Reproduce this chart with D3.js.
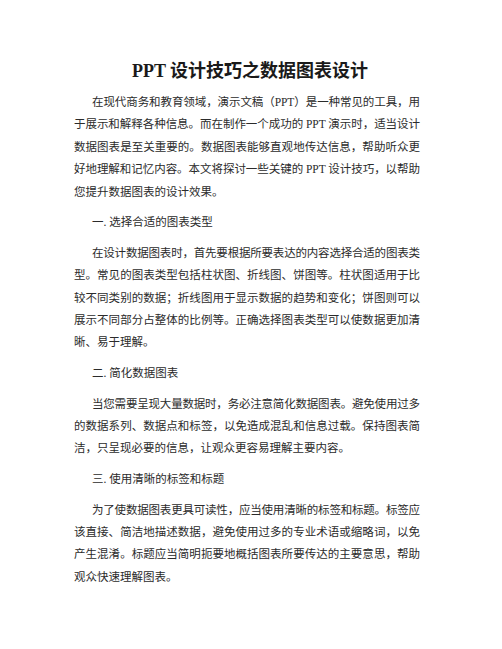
<!DOCTYPE html>
<html>
<head>
<meta charset="utf-8">
<script src="https://cdn.jsdelivr.net/npm/d3@7"></script>
<style>
  html, body { margin: 0; padding: 0; background: #fff; }
  svg { display: block; }
</style>
</head>
<body>
<svg id="page" width="502" height="649"></svg>
<script>
// page text, one array per block
const titleText = "PPT 设计技巧之数据图表设计";

const headings = [
    "一. 选择合适的图表类型",
    "二. 简化数据图表",
    "三. 使用清晰的标签和标题"
];

const para1 = [
    "在现代商务和教育领域，演示文稿（PPT）是一种常见的工具，用",
    "于展示和解释各种信息。而在制作一个成功的 PPT 演示时，适当设计",
    "数据图表是至关重要的。数据图表能够直观地传达信息，帮助听众更",
    "好地理解和记忆内容。本文将探讨一些关键的 PPT 设计技巧，以帮助",
    "您提升数据图表的设计效果。"
];

const para2 = [
    "在设计数据图表时，首先要根据所要表达的内容选择合适的图表类",
    "型。常见的图表类型包括柱状图、折线图、饼图等。柱状图适用于比",
    "较不同类别的数据；折线图用于显示数据的趋势和变化；饼图则可以",
    "展示不同部分占整体的比例等。正确选择图表类型可以使数据更加清",
    "晰、易于理解。"
];

const para3 = [
    "当您需要呈现大量数据时，务必注意简化数据图表。避免使用过多",
    "的数据系列、数据点和标签，以免造成混乱和信息过载。保持图表简",
    "洁，只呈现必要的信息，让观众更容易理解主要内容。"
];

const para4 = [
    "为了使数据图表更具可读性，应当使用清晰的标签和标题。标签应",
    "该直接、简洁地描述数据，避免使用过多的专业术语或缩略词，以免",
    "产生混淆。标题应当简明扼要地概括图表所要传达的主要意思，帮助",
    "观众快速理解图表。"
];

const blocks = [
    { kind: "body", lines: para1 },
    { kind: "heading", lines: [headings[0]] },
    { kind: "body", lines: para2 },
    { kind: "heading", lines: [headings[1]] },
    { kind: "body", lines: para3 },
    { kind: "heading", lines: [headings[2]] },
    { kind: "body", lines: para4 }
];

const svg = d3.select("#page");
const fontStack = "'Liberation Serif', 'Noto Sans CJK SC', serif";
const leftX = 74;
const indentX = 92;
const rightX = 420;
const lineStep = 22.4;
const blockGap = 30.6;

// title
svg.append("text")
    .attr("x", 250)
    .attr("y", 77)
    .attr("text-anchor", "middle")
    .attr("font-family", fontStack)
    .attr("font-weight", "bold")
    .attr("font-size", 18)
    .attr("fill", "#1a1a1a")
    .text(titleText);

// flatten blocks into rows with a running baseline
const rows = [];
let y = 106;
blocks.forEach((b, bi) => {
    if (bi > 0) y += blockGap - lineStep;
    b.lines.forEach((t, li) => {
        rows.push({
            text: t,
            kind: b.kind,
            first: li === 0,
            last: li === b.lines.length - 1,
            y: y
        });
        y += lineStep;
    });
});

const txt = svg.selectAll("text.line")
    .data(rows)
    .join("text")
    .attr("class", "line")
    .attr("x", d => (d.first ? indentX : leftX))
    .attr("y", d => d.y)
    .attr("font-family", fontStack)
    .attr("font-size", 11.5)
    .attr("fill", "#2b2b2b")
    .text(d => d.text);

// justify full body lines to the right margin
txt.filter(d => d.kind === "body" && !d.last)
    .attr("textLength", d => rightX - (d.first ? indentX : leftX))
    .attr("lengthAdjust", "spacing");
</script>
</body>
</html>
